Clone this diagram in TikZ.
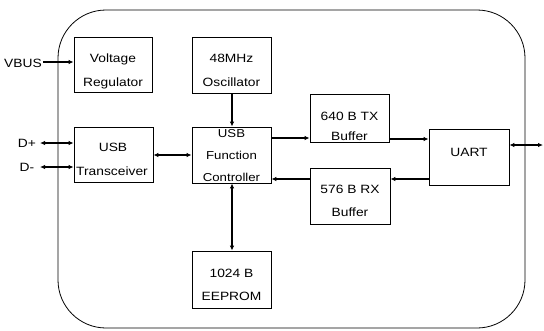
\documentclass[tikz,border=0pt]{standalone}
\usepackage{fontspec}
\newfontfamily\lab{Liberation Sans}[FakeStretch=1.15]
\usetikzlibrary{arrows.meta}
\begin{document}
\begin{tikzpicture}[x=1pt,y=-1pt,
  blk/.style={draw,line width=0.8pt,inner sep=0pt},
  txt/.style={anchor=base,inner sep=0pt,font=\lab\fontsize{12}{14}\selectfont},
  stxt/.style={txt,font=\lab\fontsize{11.5}{13}\selectfont},
  arr/.style={line width=1.3pt,-{Latex[length=5pt,width=4.5pt]}},
  darr/.style={line width=1.3pt,{Latex[length=5pt,width=4.5pt]}-{Latex[length=5pt,width=4.5pt]}}]
\useasboundingbox (0,0) rectangle (544,330);
\node[draw,line width=0.8pt,rounded corners=48pt,minimum width=467pt,minimum height=318pt,inner sep=0pt] (chip) at (291.5,169) {};
% blocks
\node[blk,minimum width=78pt,minimum height=55pt] (vreg) at (113,64.5) {};
\node[blk,minimum width=79pt,minimum height=56pt] (osc) at (231.5,65) {};
\node[blk,minimum width=79pt,minimum height=55pt] (trx) at (113.5,154.5) {};
\node[blk,minimum width=79pt,minimum height=56pt] (ufc) at (231.5,155) {};
\node[blk,minimum width=79pt,minimum height=48pt] (tx) at (349.5,118) {};
\node[blk,minimum width=80pt,minimum height=56pt] (uart) at (469,157) {};
\node[blk,minimum width=80pt,minimum height=56pt] (rx) at (350,196) {};
\node[blk,minimum width=79pt,minimum height=57pt] (eep) at (231.5,279.5) {};
% texts
\node[txt] (t1) at (113,62) {Voltage};
\node[txt] (t2) at (113,86) {Regulator};
\node[txt] (t3) at (231.5,62) {48MHz};
\node[txt] (t4) at (231.5,86) {Oscillator};
\node[txt] (t5) at (113,151) {USB};
\node[txt] (t6) at (112,175) {Transceiver};
\node[stxt] (t7) at (231.5,137) {USB};
\node[stxt] (t8) at (231.5,159) {Function};
\node[stxt] (t9) at (231.5,181) {Controller};
\node[txt] (t10) at (349.5,120) {640 B TX};
\node[txt] (t11) at (349.5,140) {Buffer};
\node[txt] (t12) at (469,156) {UART};
\node[txt] (t13) at (350,193) {576 B RX};
\node[txt] (t14) at (350,216) {Buffer};
\node[txt] (t15) at (231.5,277) {1024 B};
\node[txt] (t16) at (231.5,300) {EEPROM};
\node[txt] (vbus) at (23,67) {VBUS};
\node[txt] (dp) at (27,147) {D+};
\node[txt] (dm) at (27,171) {D-};
% helper coordinates
\coordinate (h62) at (43,62);
\coordinate (h143) at (40,143);
\coordinate (h167) at (40,167);
\coordinate (h155) at (0,155);
\coordinate (h138) at (0,138);
\coordinate (h139) at (0,139);
\coordinate (h145) at (543,145);
\coordinate (h179) at (0,179);
\coordinate (v232) at (232,0);
% connectors
\draw[arr] (h62) -- (vreg.west |- h62);
\draw[darr] (h143) -- (trx.west |- h143);
\draw[darr] (h167) -- (trx.west |- h167);
\draw[darr] (trx.east |- h155) -- (ufc.west |- h155);
\draw[arr] (osc.south -| v232) -- (ufc.north -| v232);
\draw[arr] (ufc.east |- h138) -- (tx.west |- h138);
\draw[arr] (tx.east |- h139) -- (uart.west |- h139);
\draw[darr] (uart.east |- h145) -- (h145);
\draw[arr] (uart.west |- h179) -- (rx.east |- h179);
\draw[arr] (rx.west |- h179) -- (ufc.east |- h179);
\draw[darr] (ufc.south -| v232) -- (eep.north -| v232);
\end{tikzpicture}
\end{document}
